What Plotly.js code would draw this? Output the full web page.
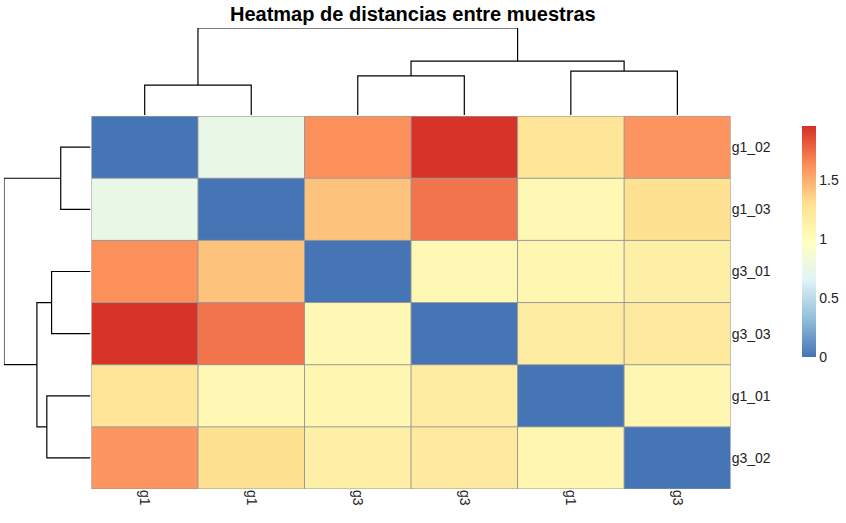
<!DOCTYPE html>
<html><head><meta charset="utf-8">
<script src="https://cdn.plot.ly/plotly-3.0.1.min.js"></script>
<style>body{margin:0}#chart{width:846px;height:523px}</style>
</head><body><div id="chart"></div>
<script>
// sample order after clustering
const rowLabels = ['g1_02', 'g1_03', 'g3_01', 'g3_03', 'g1_01', 'g3_02'];
const colLabels = ['g1', 'g1', 'g3', 'g3', 'g1', 'g3'];

// distance matrix (rows/cols in the same order)
const dist = [
  [0.00, 0.75, 1.62, 1.95, 1.25, 1.60],
  [0.75, 0.00, 1.42, 1.72, 1.05, 1.30],
  [1.62, 1.42, 0.00, 1.05, 1.08, 1.15],
  [1.95, 1.72, 1.05, 0.00, 1.18, 1.20],
  [1.25, 1.05, 1.08, 1.18, 0.00, 1.07],
  [1.60, 1.30, 1.15, 1.20, 1.07, 0.00]
];

// hclust merges: [left, right, height]; negative = leaf index, positive = earlier merge (1-based)
const merges = [
  [-0, -1, 0.75],
  [-2, -3, 0.98],
  [-4, -5, 1.10],
  [2, 3, 1.35],
  [1, 4, 2.18]
];

const colors = [
  [0, '#4575B4'], [1/6, '#91BFDB'], [2/6, '#E0F3F8'], [3/6, '#FFFFBF'],
  [4/6, '#FEE090'], [5/6, '#FC8D59'], [1, '#D73027']
];

// build dendrogram segments (pos along leaves, height)
function dendro() {
  const pos = [], hs = [], P = [], H = [];
  function get(id) {
    if (id <= 0 && !(id > 0)) return [-id, 0];
    return [pos[id - 1], hs[id - 1]];
  }
  merges.forEach(m => {
    const a = m[0] > 0 ? [pos[m[0] - 1], hs[m[0] - 1]] : [-m[0], 0];
    const b = m[1] > 0 ? [pos[m[1] - 1], hs[m[1] - 1]] : [-m[1], 0];
    P.push(a[0], a[0], b[0], b[0], null);
    H.push(a[1], m[2], m[2], b[1], null);
    pos.push((a[0] + b[0]) / 2);
    hs.push(m[2]);
  });
  return { P, H };
}
const d = dendro();
const hMax = merges[merges.length - 1][2];

const idx = [0, 1, 2, 3, 4, 5];
const heat = {
  type: 'heatmap', z: dist, x: idx, y: idx,
  colorscale: colors, zmin: 0, zmax: 1.96,
  colorbar: {
    x: 0.942, xanchor: 'left', y: 0.778, yanchor: 'top', len: 0.48,
    thickness: 14, outlinewidth: 0, tickvals: [0, 0.5, 1, 1.5],
    ticktext: ['0', '0.5', '1', '1.5'], ticks: '', ticklen: 0,
    tickfont: { size: 14, color: '#222' }
  },
  hoverinfo: 'skip'
};
const colDend = {
  type: 'scatter', mode: 'lines', x: d.P, y: d.H, xaxis: 'x2', yaxis: 'y2',
  line: { color: '#000', width: 1.2 }, hoverinfo: 'skip', showlegend: false
};
const rowDend = {
  type: 'scatter', mode: 'lines', x: d.H, y: d.P, xaxis: 'x3', yaxis: 'y3',
  line: { color: '#000', width: 1.2 }, hoverinfo: 'skip', showlegend: false
};

// cell borders
const shapes = [];
for (let k = 0; k <= 6; k++) {
  shapes.push({ type: 'line', xref: 'x', yref: 'y', x0: k - 0.5, x1: k - 0.5, y0: -0.5, y1: 5.5, line: { color: '#999', width: 1 } });
  shapes.push({ type: 'line', xref: 'x', yref: 'y', y0: k - 0.5, y1: k - 0.5, x0: -0.5, x1: 5.5, line: { color: '#999', width: 1 } });
}

const hid = { showgrid: false, zeroline: false, showticklabels: false, ticks: '' };
const layout = {
  width: 846, height: 523, margin: { l: 0, r: 0, t: 0, b: 0 },
  paper_bgcolor: '#fff', plot_bgcolor: '#fff',
  font: { family: 'Liberation Sans, Arial, sans-serif', color: '#222' },
  title: { text: '<b>Heatmap de distancias entre muestras</b>', x: 0.488, xanchor: 'center', y: 0.973, yanchor: 'middle', font: { size: 20, color: '#000' } },
  showlegend: false,
  shapes: shapes,
  xaxis: { domain: [0.1087, 0.8688], range: [-0.5, 5.5], tickvals: idx, ticktext: colLabels, tickangle: 90, showgrid: false, zeroline: false, ticks: '', tickfont: { size: 14 } },
  yaxis: { domain: [0.065, 0.778], range: [5.5, -0.5], tickvals: idx, ticktext: rowLabels, side: 'right', showgrid: false, zeroline: false, ticks: '', tickfont: { size: 14 } },
  xaxis2: Object.assign({ domain: [0.1087, 0.8688], range: [-0.5, 5.5], anchor: 'y2' }, hid),
  yaxis2: Object.assign({ domain: [0.780, 0.9465], range: [0, hMax], anchor: 'x2' }, hid),
  xaxis3: Object.assign({ domain: [0.0047, 0.1076], range: [hMax, 0], anchor: 'y3' }, hid),
  yaxis3: Object.assign({ domain: [0.065, 0.778], range: [5.5, -0.5], anchor: 'x3' }, hid)
};

Plotly.newPlot('chart', [heat, colDend, rowDend], layout, { displayModeBar: false, staticPlot: true });
</script></body></html>
